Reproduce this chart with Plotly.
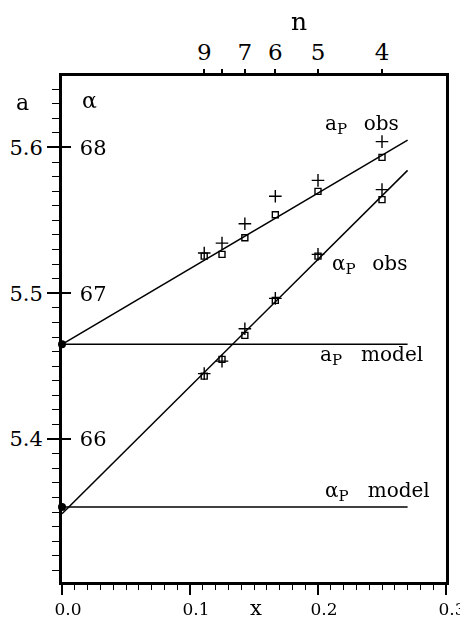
import plotly.graph_objects as go

# ---------------- data ----------------
n_values = [9, 8, 7, 6, 5, 4]
n_ticktext = ["9", "", "7", "6", "5", "4"]
x_points = [1.0 / n for n in n_values]          # x = 1/n

a_obs_square = [5.5255, 5.5267, 5.5381, 5.5539, 5.5699, 5.5932]
a_obs_cross = [5.5276, 5.5344, 5.5477, 5.5665, 5.5774, 5.6040]
alpha_obs_square = [66.432, 66.547, 66.711, 66.951, 67.255, 67.642]
alpha_obs_cross = [66.449, 66.535, 66.757, 66.965, 67.267, 67.711]

fit_x = [0.0, 0.27]
a_fit = [5.465, 5.605]
alpha_fit = [65.488, 67.843]
a_model = 5.465
alpha_model = 65.534

a_ticks = [5.4, 5.5, 5.6]
a_ticktext = ["5.4", "5.5", "5.6"]
alpha_ticks = [66, 67, 68]
alpha_ticktext = ["66", "67", "68"]
x_ticks = [0.0, 0.1, 0.2, 0.3]
x_ticktext = ["0.0", "0.1", "0.2", "0.3"]

a_range = [5.302, 5.649]
alpha_range = [67 + (v - 5.5) * 10 for v in a_range]
x_range = [0.0, 0.3]

FONT = "DejaVu Serif"
BLACK = "black"

fig = go.Figure()

# fitted / model lines
fig.add_trace(go.Scatter(x=fit_x, y=a_fit, mode="lines",
                         line=dict(color=BLACK, width=1.5), yaxis="y"))
fig.add_trace(go.Scatter(x=fit_x, y=[a_model, a_model], mode="lines",
                         line=dict(color=BLACK, width=1.5), yaxis="y"))
fig.add_trace(go.Scatter(x=fit_x, y=alpha_fit, mode="lines",
                         line=dict(color=BLACK, width=1.5), yaxis="y2"))
fig.add_trace(go.Scatter(x=fit_x, y=[alpha_model, alpha_model], mode="lines",
                         line=dict(color=BLACK, width=1.5), yaxis="y2"))

# observed points
sq = dict(symbol="square-open", size=6, color=BLACK, line=dict(color=BLACK, width=1.4))
cr = dict(symbol="cross-thin", size=9, color=BLACK, line=dict(color=BLACK, width=1.4))
fig.add_trace(go.Scatter(x=x_points, y=a_obs_square, mode="markers", marker=sq, yaxis="y"))
fig.add_trace(go.Scatter(x=x_points, y=a_obs_cross, mode="markers", marker=cr, yaxis="y"))
fig.add_trace(go.Scatter(x=x_points, y=alpha_obs_square, mode="markers", marker=sq, yaxis="y2"))
fig.add_trace(go.Scatter(x=x_points, y=alpha_obs_cross, mode="markers", marker=cr, yaxis="y2"))

# model values at x = 0
fig.add_trace(go.Scatter(x=[0.0], y=[a_model], mode="markers", cliponaxis=False,
                         marker=dict(symbol="circle", size=8, color=BLACK), yaxis="y"))
fig.add_trace(go.Scatter(x=[0.0], y=[alpha_model], mode="markers", cliponaxis=False,
                         marker=dict(symbol="circle", size=8, color=BLACK), yaxis="y2"))

# invisible trace to activate top axis
fig.add_trace(go.Scatter(x=x_points, y=a_obs_square, mode="markers", opacity=0,
                         xaxis="x2", yaxis="y", hoverinfo="skip"))

SP_OBS = "\u00a0\u00a0\u2009"
SP_MODEL = "\u00a0\u00a0\u00a0"
SUB = '<sub><span style="font-size:15px">P</span></sub>'

fig.update_layout(
    width=460, height=615,
    margin=dict(l=54, r=22, t=68, b=41),
    paper_bgcolor="white", plot_bgcolor="white",
    showlegend=False,
    font=dict(family=FONT, color=BLACK),
    xaxis=dict(
        range=x_range, tickvals=x_ticks, ticktext=x_ticktext,
        ticks="outside", ticklen=10, tickwidth=1.5, tickcolor=BLACK,
        minor=dict(dtick=0.01, tick0=0, ticks="outside", ticklen=5,
                   tickwidth=1.2, tickcolor=BLACK),
        showline=True, linewidth=2.5, linecolor=BLACK, mirror=True,
        showgrid=False, zeroline=False, automargin=False,
        ticklabeloverflow="allow", ticklabelshift=6,
        tickfont=dict(size=17, family=FONT, color=BLACK),
    ),
    xaxis2=dict(
        range=x_range, overlaying="x", side="top", anchor="y",
        tickvals=x_points, ticktext=n_ticktext,
        ticks="outside", ticklen=6, tickwidth=1.5, tickcolor=BLACK,
        showline=False, showgrid=False, zeroline=False, automargin=False,
        ticklabeloverflow="allow",
        tickfont=dict(size=23, family=FONT, color=BLACK),
    ),
    yaxis=dict(
        range=a_range, tickvals=a_ticks, ticktext=a_ticktext,
        ticks="outside", ticklen=12, tickwidth=1.5, tickcolor=BLACK,
        minor=dict(dtick=0.01, tick0=5.3, ticks="outside", ticklen=7,
                   tickwidth=1.2, tickcolor=BLACK),
        showline=True, linewidth=3, linecolor=BLACK, mirror=True,
        showgrid=False, zeroline=False, automargin=False,
        ticklabeloverflow="allow",
        tickfont=dict(size=21, family=FONT, color=BLACK),
    ),
    yaxis2=dict(
        range=alpha_range, overlaying="y", side="left", anchor="x",
        tickvals=alpha_ticks, ticktext=alpha_ticktext,
        ticks="inside", ticklen=9, tickwidth=1.5, tickcolor=BLACK,
        ticklabelposition="inside", ticklabelstandoff=10,
        showline=False, showgrid=False, zeroline=False, automargin=False,
        ticklabeloverflow="allow",
        tickfont=dict(size=21, family=FONT, color=BLACK),
    ),
    annotations=[
        dict(text="a", xref="paper", yref="paper", x=-0.103, y=0.9476,
             xanchor="center", yanchor="middle",
             showarrow=False, font=dict(size=22, family=FONT)),
        dict(text="α", xref="paper", yref="paper", x=0.0716, y=0.9506,
             xanchor="center", yanchor="middle",
             showarrow=False, font=dict(size=22, family=FONT)),
        dict(text="n", xref="paper", yref="paper", x=0.616, y=1.107,
             xanchor="center", yanchor="middle",
             showarrow=False, font=dict(size=25, family=FONT)),
        dict(text="x", xref="paper", yref="paper", x=0.504, y=-0.052,
             xanchor="center", yanchor="middle",
             showarrow=False, font=dict(size=21, family=FONT)),
        dict(text="a" + SUB + SP_OBS + "obs", x=0.204, y=5.616, xref="x", yref="y",
             xanchor="left", yanchor="middle", showarrow=False, font=dict(size=20, family=FONT)),
        dict(text="α" + SUB + SP_OBS + "obs", x=0.209, y=5.5195, xref="x", yref="y",
             xanchor="left", yanchor="middle", showarrow=False, font=dict(size=20, family=FONT)),
        dict(text="a" + SUB + SP_MODEL + "model", x=0.200, y=5.4575, xref="x", yref="y",
             xanchor="left", yanchor="middle", showarrow=False, font=dict(size=20, family=FONT)),
        dict(text="α" + SUB + SP_MODEL + "model", x=0.204, y=5.364, xref="x", yref="y",
             xanchor="left", yanchor="middle", showarrow=False, font=dict(size=20, family=FONT)),
    ],
)

fig.write_html("out.html")
